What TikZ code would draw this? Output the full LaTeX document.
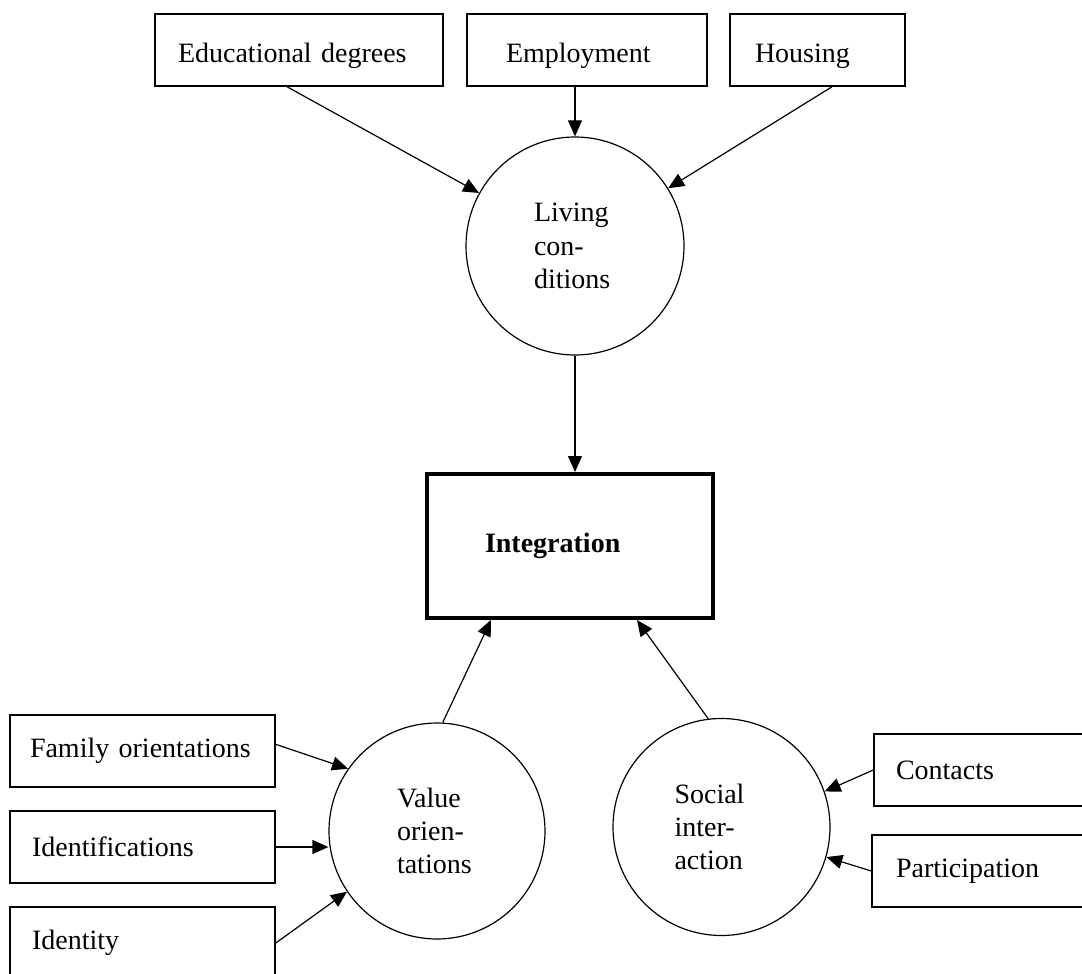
\documentclass[tikz,border=0pt]{standalone}
\usepackage{fontspec}
\setmainfont{Liberation Serif}
\usetikzlibrary{arrows.meta}

\begin{document}
\begin{tikzpicture}[x=0.75pt,y=-0.75pt,
  factor/.style={draw,line width=1.1pt,minimum height=54pt,align=left,font=\fontsize{21}{25}\selectfont},
  toprow/.style={factor,text height=19.5pt,text depth=0pt},
  latent/.style={draw,circle,line width=0.9pt,inner sep=0pt,align=left,font=\fontsize{21}{25}\selectfont},
  link/.style={-{Triangle[length=12pt,width=10.5pt]},line width=0.9pt}]
\useasboundingbox (0,0) rectangle (1082,974);
% indicators of living conditions
\node[toprow,text width=181.5pt,inner xsep=17.25pt] (edu) at (299,50) {Educational degrees};
\node[toprow,text width=121.5pt,inner xsep=29.25pt] (emp) at (587,50) {Employment};
\node[toprow,text width=93.75pt,inner xsep=18.75pt] (hou) at (817.5,50) {Housing};
\node[latent,minimum size=163.5pt,text width=61.5pt] (living) at (575,246) {Living\\con-\\ditions};
% outcome
\node[draw,line width=3pt,minimum height=108pt,text width=127.5pt,inner xsep=43.5pt,align=left,
  font=\fontsize{21}{25}\selectfont\bfseries] (integ) at (570,546) {Integration};
% lower dimensions
\node[latent,minimum size=162pt,text width=60pt] (value) at (437,831) {Value\\orien-\\tations};
\node[latent,minimum size=162.75pt,text width=70.5pt] (social) at (721.5,827) {Social\\inter-\\action};
\node[factor,text width=168.75pt,inner xsep=15pt] (fam) at (142.5,751) {Family orientations};
\node[factor,text width=165.75pt,inner xsep=16.5pt] (idf) at (142.5,847) {Identifications};
\node[factor,text width=165.75pt,inner xsep=16.5pt] (idt) at (142.5,943) {Identity};
\node[factor,text width=165.75pt,inner xsep=16.5pt] (con) at (1006.5,770) {Contacts};
\node[factor,text width=165.75pt,inner xsep=18pt] (par) at (1006.5,871) {Participation};
\path[link]
([xshift=-9pt]edu.south) edge (living)
(emp.south -| living.north) edge (living)
([xshift=10.9pt]hou.south) edge (living)
(living.south) edge (living.south |- integ.north)
(value.87) edge ([xshift=-59.25pt]integ.south)
(social.97) edge ([xshift=50.25pt]integ.south)
([yshift=5pt]fam.east) edge (value.145)
(idf.east) edge (idf.east -| value.west)
(idt.east) edge (value.214)
(con.west) edge (social.19)
(par.west) edge (social.-16);
\end{tikzpicture}
\end{document}
